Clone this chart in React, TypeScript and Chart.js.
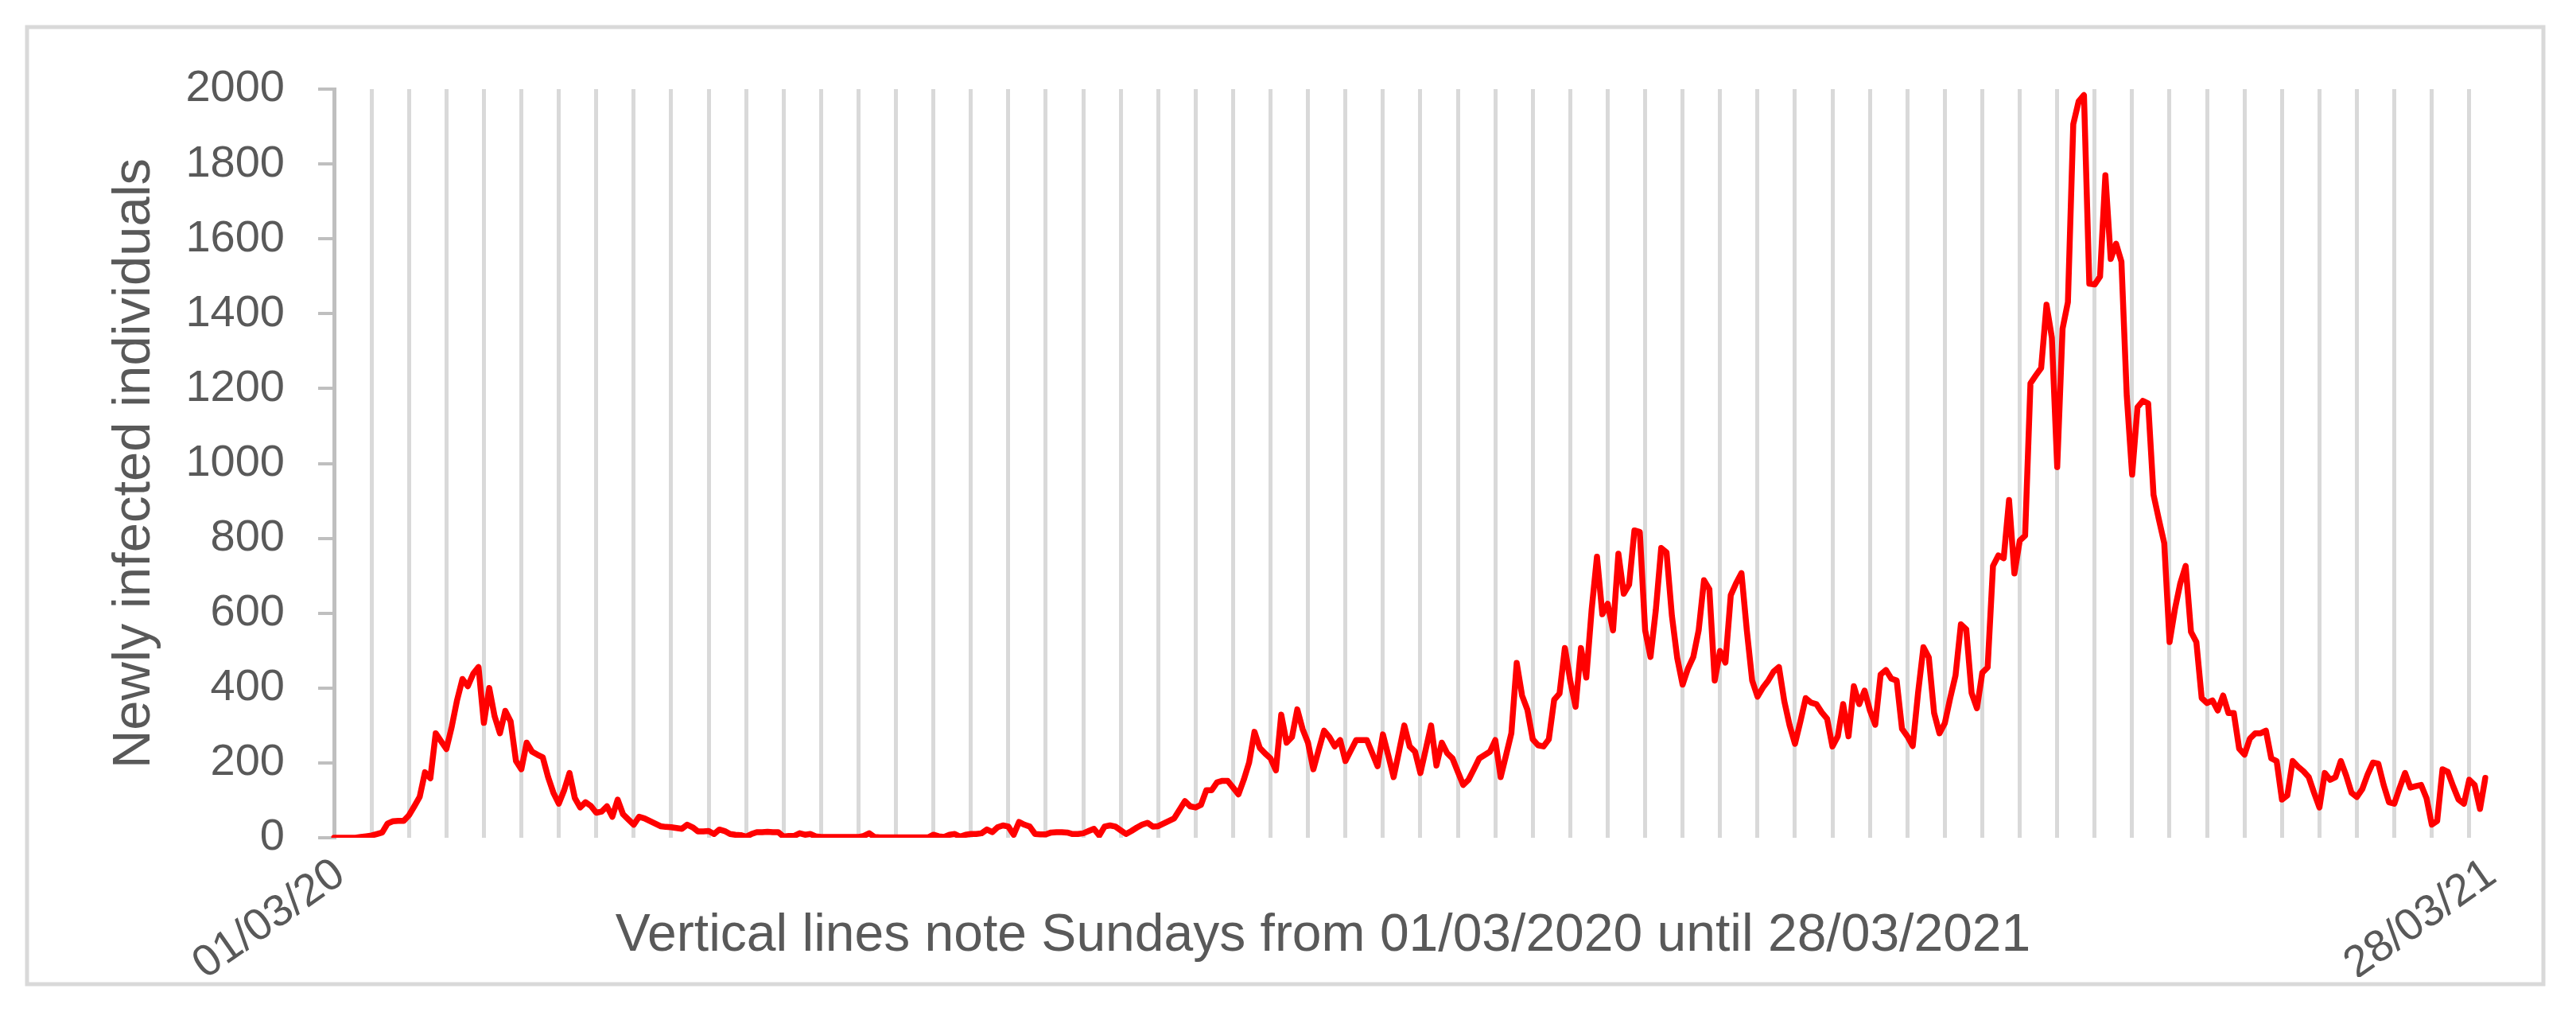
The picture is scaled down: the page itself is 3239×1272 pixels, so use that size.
import React, { useEffect, useRef } from 'react';
import { Chart, registerables } from 'chart.js';

Chart.register(...registerables);

// Daily newly infected individuals
const newlyInfected: number[] = [
  0, 0, 0, 0, 0, 2, 4, 6, 10, 14,
  38, 44, 45, 45, 60, 84, 109, 175, 159, 279,
  258, 237, 297, 368, 424, 405, 438, 456, 307, 400,
  325, 279, 339, 311, 205, 183, 254, 230, 222, 215,
  162, 120, 91, 127, 173, 106, 81, 95, 85, 67,
  70, 84, 56, 102, 63, 49, 35, 56, 52, 45,
  38, 31, 29, 28, 26, 24, 35, 28, 17, 17,
  18, 10, 22, 18, 10, 8, 7, 3, 10, 15,
  15, 16, 15, 15, 3, 5, 5, 12, 8, 10,
  4, 2, 2, 2, 2, 2, 2, 2, 2, 5,
  12, 2, 1, 1, 1, 1, 1, 1, 1, 1,
  1, 1, 8, 4, 2, 8, 10, 3, 8, 10,
  10, 12, 22, 15, 28, 33, 30, 8, 42, 35,
  30, 10, 9, 9, 14, 15, 15, 14, 10, 10,
  12, 18, 24, 6, 30, 33, 30, 20, 10, 18,
  27, 35, 40, 30, 31, 38, 45, 52, 75, 98,
  84, 81, 88, 127, 127, 148, 152, 152, 134, 116,
  155, 201, 283, 240, 225, 212, 180, 329, 254, 269,
  343, 290, 254, 183, 235, 286, 269, 244, 261, 205,
  233, 261, 261, 261, 226, 191, 276, 220, 162, 230,
  300, 244, 230, 173, 236, 300, 193, 254, 226, 212,
  176, 141, 155, 183, 212, 221, 230, 261, 162, 220,
  279, 467, 380, 342, 263, 247, 244, 263, 369, 385,
  507, 420, 350, 507, 428, 609, 751, 597, 625, 554,
  759, 652, 676, 821, 817, 554, 483, 609, 774, 762,
  593, 480, 409, 452, 483, 554, 688, 664, 420, 499,
  468, 648, 680, 707, 554, 420, 377, 401, 420, 444,
  456, 365, 300, 251, 310, 373, 361, 357, 335, 318,
  244, 271, 357, 271, 405, 357, 393, 340, 302, 436,
  448, 425, 420, 291, 271, 245, 387, 509, 482, 333,
  279, 306, 373, 434, 570, 557, 387, 346, 441, 455,
  726, 754, 747, 902, 706, 794, 807, 1214, 1235, 1255,
  1424, 1336, 990, 1360, 1431, 1906, 1967, 1984, 1480, 1478,
  1499, 1770, 1546, 1587, 1539, 1180, 970, 1150, 1167, 1160,
  916, 850, 787, 523, 611, 680, 726, 550, 523, 373,
  360, 367, 340, 380, 333, 333, 238, 222, 265, 279,
  279, 286, 212, 205, 102, 113, 205, 190, 178, 162,
  120, 81, 173, 155, 162, 205, 166, 120, 109, 130,
  169, 201, 198, 141, 95, 91, 134, 173, 134, 138,
  141, 106, 35, 45, 183, 176, 137, 102, 91, 155,
  141, 77, 160,
];

// Category positions (one per daily value)
const dayLabels: string[] = newlyInfected.map((_, i) => `day ${i + 1}`);

// Tick labels shown on the x axis (first and last category)
const xTickLabels: string[] = ['01/03/20', '28/03/21'];

// Y axis range and step
const yAxisRange: number[] = [0, 2000];
const yAxisStep = 200;

// Vertical reference lines every 7th category (Sundays)
const sundayInterval = 7;

const yAxisTitle = 'Newly infected individuals';
const xAxisCaption = 'Vertical lines note Sundays from 01/03/2020 until 28/03/2021';

const W = 3239;
const H = 1272;
const FONT = "'Liberation Sans', Arial, sans-serif";
const TEXT = '#595959';

export default function App() {
  const ref = useRef<HTMLCanvasElement>(null);

  useEffect(() => {
    const canvas = ref.current;
    if (!canvas) return;
    const last = newlyInfected.length - 1;

    const frame = {
      id: 'outerFrame',
      beforeDraw(chart: any) {
        const ctx = chart.ctx;
        ctx.save();
        ctx.fillStyle = '#ffffff';
        ctx.fillRect(0, 0, chart.width, chart.height);
        ctx.strokeStyle = '#d9d9d9';
        ctx.lineWidth = 5;
        ctx.strokeRect(34, 34, 3164, 1203);
        ctx.restore();
      },
    };

    const chart = new Chart(canvas, {
      type: 'line',
      data: {
        labels: dayLabels,
        datasets: [
          {
            data: newlyInfected,
            borderColor: '#ff0000',
            backgroundColor: '#ff0000',
            borderWidth: 7.5,
            pointRadius: 0,
            pointHoverRadius: 0,
            tension: 0,
            fill: false,
            borderJoinStyle: 'round',
            borderCapStyle: 'round',
          },
        ],
      },
      options: {
        animation: false,
        responsive: false,
        devicePixelRatio: 1,
        events: [],
        layout: { padding: { left: 202, right: 114, top: 112, bottom: 35 } },
        plugins: {
          legend: { display: false },
          tooltip: { enabled: false },
          title: {
            display: true,
            position: 'bottom',
            text: xAxisCaption,
            color: TEXT,
            font: { family: FONT, size: 66, weight: 'normal', lineHeight: 1.2 },
            padding: { top: -90.6, bottom: 20.4 },
          },
        },
        scales: {
          x: {
            type: 'category',
            grid: {
              color: (c: any) =>
                c.index > 0 && c.index % sundayInterval === 0 ? '#d9d9d9' : 'rgba(0,0,0,0)',
              lineWidth: 5,
              drawTicks: false,
              drawOnChartArea: true,
            },
            border: { display: false },
            ticks: {
              autoSkip: false,
              maxRotation: 35,
              minRotation: 35,
              padding: 13,
              labelOffset: 8,
              color: TEXT,
              font: { family: FONT, size: 56 },
              callback: (_v: any, i: number) =>
                i === 0 ? xTickLabels[0] : i === last ? xTickLabels[1] : '',
            },
            afterFit: (s: any) => {
              s.height = 175;
              s.paddingLeft = 0;
              s.paddingRight = 0;
              s.paddingTop = 0;
              s.paddingBottom = 0;
            },
          },
          y: {
            min: yAxisRange[0],
            max: yAxisRange[1],
            ticks: {
              stepSize: yAxisStep,
              padding: 42,
              color: TEXT,
              font: { family: FONT, size: 56 },
              callback: (v: any) => String(v),
            },
            grid: {
              drawOnChartArea: false,
              drawTicks: true,
              tickLength: 20,
              color: '#bfbfbf',
              lineWidth: 4,
            },
            border: { display: true, color: '#bfbfbf', width: 5 },
            title: {
              display: true,
              text: yAxisTitle,
              color: TEXT,
              font: { family: FONT, size: 67, weight: 'normal', lineHeight: 1.2 },
              padding: { top: -72.6, bottom: 0 },
            },
            afterFit: (s: any) => {
              s.width = 218;
              s.paddingLeft = 0;
              s.paddingRight = 0;
              s.paddingTop = 0;
              s.paddingBottom = 0;
            },
          },
        },
      } as any,
      plugins: [frame],
    });

    return () => chart.destroy();
  }, []);

  return (
    <div style={{ position: 'absolute', left: 0, top: 0, width: W, height: H }}>
      <canvas ref={ref} width={W} height={H} style={{ display: 'block', width: W, height: H }} />
    </div>
  );
}
